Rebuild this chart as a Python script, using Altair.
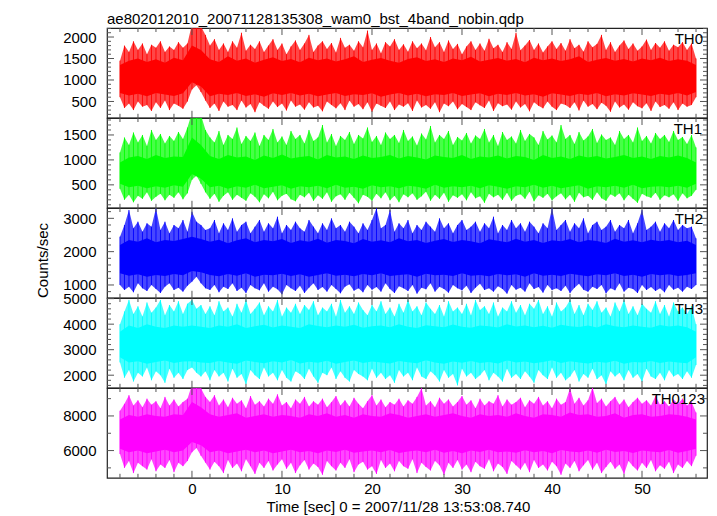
import altair as alt
import pandas as pd

FONT = "Liberation Sans"
W, H = 600, 89.8
XDOM = [-9.44, 57.22]

TITLE = "ae802012010_20071128135308_wam0_bst_4band_nobin.qdp"
XTITLE = "Time [sec] 0 = 2007/11/28 13:53:08.740"
YTITLE = "Counts/sec"
NAMES = ["TH0", "TH1", "TH2", "TH3", "TH0123"]
COLORS = ["#ff0000", "#00ff00", "#0000ff", "#00ffff", "#ff00ff"]
YDOMS = [[120, 2210], [40, 1840], [615, 3310], [1506, 5025], [4427, 9614]]
YLABELS = [[500, 1000, 1500, 2000], [500, 1000, 1500], [1000, 2000, 3000],
           [2000, 3000, 4000, 5000], [6000, 8000]]
YMAJOR = [500, 500, 1000, 1000, 2000]
YMINOR = [100, 100, 200, 200, 1000]
XLABELS = [0, 10, 20, 30, 40, 50]

# time grids (sec): envelope every 0.5 s, core every 1 s
T_OUT = [-8 + 0.5 * i for i in range(129)]
T_IN = [-8 + 1.0 * i for i in range(65)]

# ---------------- TH0 ----------------
HI0 = [1450, 1800, 1650, 1900, 1700, 1850, 1600, 1820, 1750, 1900, 1650, 1780, 1700, 1880, 1750, 1850,
       2300, 2350, 2250, 2050,
       1800, 1950, 1700, 1850, 1650, 1900, 1750, 2100, 1680, 1820,
       1720, 1900, 1650, 1800, 1950, 1700, 1850, 1600, 1780, 1920,
       1700, 1850, 2050, 1650, 1800, 1900, 1720, 1860, 1640, 1980,
       1750, 1820, 1680, 1900, 1760, 2150, 1700, 1850, 1620, 1880,
       1780, 1950, 1700, 1830, 1660, 1900, 1740, 1850, 1690, 2000,
       1760, 1880, 1650, 1920, 1720, 1840, 1600, 1780, 1900, 1700,
       1850, 1680, 1960, 1740, 1820, 1650, 1880, 1720, 2100, 1690,
       1800, 1930, 1700, 1850, 1640, 1780, 1900, 1720, 1860, 1680,
       1950, 1740, 1820, 1660, 1900, 1760, 1840, 2050, 1700, 1880,
       1650, 1800, 1920, 1720, 1850, 1680, 1780, 1940, 1700, 1860,
       1750, 1900, 1680, 1820, 1760, 1880, 1700, 1850, 1500]
LO0 = [600, 350, 450, 300, 500, 380, 420, 280, 480, 350, 520, 300, 450, 400, 330, 500,
       780, 880, 720, 520,
       350, 450, 280, 500, 380, 420, 300, 520, 360, 440,
       250, 480, 400, 330, 500, 370, 450, 290, 520, 380,
       430, 310, 480, 360, 400, 270, 500, 420, 340, 460,
       300, 520, 380, 440, 320, 480, 260, 450, 400, 350,
       500, 300, 430, 380, 460, 280, 520, 360, 420, 330,
       480, 250, 450, 390, 500, 320, 440, 370, 300, 480,
       410, 350, 520, 280, 460, 390, 430, 310, 500, 360,
       440, 270, 480, 400, 340, 500, 380, 300, 450, 420,
       350, 480, 290, 520, 380, 440, 320, 470, 400, 260,
       500, 360, 430, 310, 480, 390, 340, 460, 280, 500,
       370, 420, 330, 480, 300, 450, 380, 420, 600]
CHI0 = [1350, 1450, 1500, 1420, 1480, 1400, 1520, 1460,
        1800, 1700,
        1480, 1420, 1550, 1450, 1500, 1400, 1470, 1530, 1440, 1490,
        1410, 1520, 1460, 1500, 1430, 1480, 1550, 1420, 1470, 1510,
        1450, 1400, 1490, 1530, 1440, 1480, 1420, 1500, 1460, 1540,
        1430, 1470, 1510, 1450, 1490, 1410, 1520, 1460, 1500, 1440,
        1480, 1550, 1420, 1470, 1510, 1450, 1490, 1430, 1500, 1460,
        1520, 1440, 1480, 1450, 1350]
CLO0 = [700, 640, 680, 620, 700, 660, 630, 690,
        950, 850,
        620, 680, 650, 700, 630, 670, 610, 690, 650, 700,
        640, 680, 620, 660, 700, 630, 670, 650, 690, 610,
        660, 700, 640, 680, 620, 670, 650, 700, 630, 660,
        690, 620, 680, 650, 700, 640, 670, 610, 690, 660,
        630, 680, 650, 700, 620, 670, 640, 690, 660, 630,
        680, 650, 700, 640, 720]

# ---------------- TH1 ----------------
HI1 = [1150, 1450, 1300, 1550, 1350, 1500, 1280, 1600, 1400, 1520, 1330, 1480, 1380, 1560, 1420, 1650,
       1950, 2000, 1900, 1600,
       1450, 1350, 1580, 1300, 1500, 1420, 1650, 1320, 1480, 1380,
       1550, 1280, 1500, 1400, 1620, 1350, 1470, 1300, 1580, 1420,
       1500, 1330, 1600, 1380, 1450, 1700, 1350, 1520, 1280, 1480,
       1400, 1560, 1320, 1500, 1430, 1650, 1360, 1480, 1300, 1550,
       1420, 1500, 1340, 1600, 1380, 1470, 1290, 1530, 1410, 1680,
       1350, 1500, 1420, 1580, 1300, 1460, 1390, 1540, 1330, 1490,
       1420, 1620, 1350, 1500, 1280, 1560, 1400, 1470, 1330, 1600,
       1380, 1520, 1450, 1300, 1580, 1410, 1490, 1350, 1700, 1420,
       1500, 1320, 1560, 1390, 1470, 1620, 1340, 1510, 1400, 1450,
       1300, 1580, 1420, 1500, 1350, 1650, 1380, 1480, 1330, 1540,
       1420, 1500, 1360, 1580, 1400, 1460, 1320, 1500, 1250]
LO1 = [420, 200, 300, 150, 280, 220, 350, 180, 260, 320, 190, 300, 240, 350, 210, 330,
       600, 680, 520, 350,
       220, 320, 160, 280, 350, 200, 300, 240, 180, 330,
       260, 150, 310, 230, 360, 190, 280, 320, 210, 170,
       300, 250, 340, 180, 290, 220, 350, 160, 270, 310,
       200, 340, 240, 130, 300, 260, 180, 320, 230, 350,
       190, 280, 150, 310, 250, 330, 200, 270, 360, 180,
       300, 220, 340, 160, 290, 240, 310, 190, 350, 230,
       270, 140, 320, 250, 300, 200, 340, 180, 280, 310,
       220, 360, 170, 290, 240, 320, 190, 270, 330, 210,
       300, 160, 340, 250, 280, 200, 350, 230, 180, 310,
       260, 330, 190, 300, 220, 140, 320, 270, 240, 340,
       200, 290, 250, 310, 180, 330, 230, 280, 400]
CHI1 = [950, 1050, 1080, 1020, 1100, 1040, 1070, 1060,
        1450, 1300,
        1080, 1020, 1100, 1050, 1070, 1000, 1090, 1040, 1110, 1030,
        1060, 1080, 1010, 1100, 1050, 1070, 1020, 1090, 1040, 1060,
        1100, 1030, 1080, 1050, 1010, 1090, 1060, 1040, 1100, 1020,
        1070, 1050, 1090, 1030, 1080, 1060, 1000, 1100, 1040, 1070,
        1020, 1090, 1050, 1080, 1030, 1060, 1100, 1040, 1070, 1020,
        1080, 1050, 1090, 1040, 950]
CLO1 = [520, 450, 480, 430, 470, 440, 490, 460,
        720, 620,
        450, 480, 420, 470, 440, 500, 430, 460, 490, 420,
        470, 450, 480, 430, 500, 440, 460, 420, 490, 450,
        470, 430, 480, 460, 420, 500, 440, 470, 450, 480,
        430, 490, 460, 420, 470, 450, 500, 440, 480, 430,
        460, 490, 420, 470, 450, 480, 440, 500, 430, 460,
        470, 450, 480, 440, 520]

# ---------------- TH2 ----------------
HI2 = [2450, 2800, 3250, 2700, 2900, 2600, 2850, 2750, 3300, 2650, 2900, 2550, 2800, 2700, 2950, 2600,
       3200, 2900, 2800, 2650,
       2700, 2950, 2550, 2850, 2650, 3000, 2600, 2800, 2900, 2550,
       2750, 2950, 2600, 2850, 2700, 3050, 2550, 2800, 2650, 2900,
       2700, 2600, 2950, 2750, 2550, 2850, 2650, 3000, 2700, 2800,
       2600, 2900, 2750, 2550, 2850, 2650, 2950, 3300, 2700, 2800,
       3250, 2600, 2850, 2700, 2950, 2550, 2800, 2650, 2900, 2750,
       2600, 3000, 2700, 2850, 2550, 2800, 2950, 2650, 2750, 2900,
       2600, 2850, 2700, 3050, 2550, 2800, 2650, 2950, 2700, 2850,
       2600, 2900, 2750, 2550, 2850, 2700, 3300, 2650, 2800, 2950,
       2600, 2850, 2700, 3000, 2550, 2800, 2900, 2650, 2750, 2950,
       2600, 2800, 2700, 2950, 2550, 2850, 3250, 2650, 2750, 2900,
       2600, 2850, 2700, 2950, 2650, 2800, 2700, 2750, 2400]
LO2 = [1000, 850, 950, 780, 1050, 900, 820, 1000, 880, 760, 950, 1050, 850, 920, 800, 980,
       1100, 1250, 1050, 900,
       850, 1000, 780, 950, 880, 1050, 820, 920, 760, 1000,
       900, 840, 1050, 800, 950, 870, 720, 1000, 900, 820,
       980, 760, 920, 1050, 850, 940, 800, 1000, 880, 750,
       950, 1020, 830, 900, 780, 1000, 860, 940, 800, 1050,
       880, 760, 960, 900, 820, 1000, 740, 920, 870, 1050,
       800, 950, 880, 770, 1000, 900, 840, 980, 760, 920,
       1040, 850, 900, 800, 960, 880, 740, 1000, 860, 920,
       800, 1050, 880, 940, 770, 1000, 850, 900, 820, 980,
       760, 920, 1040, 860, 800, 950, 880, 1000, 750, 900,
       840, 1050, 800, 920, 880, 760, 1000, 850, 940, 820,
       900, 780, 1000, 860, 920, 800, 950, 880, 1000]
CHI2 = [2200, 2350, 2300, 2400, 2280, 2350, 2320, 2380,
        2450, 2380,
        2300, 2360, 2250, 2340, 2400, 2280, 2350, 2310, 2380, 2260,
        2340, 2300, 2390, 2270, 2350, 2320, 2250, 2380, 2300, 2340,
        2280, 2400, 2310, 2350, 2260, 2330, 2380, 2290, 2350, 2310,
        2250, 2370, 2330, 2280, 2390, 2300, 2350, 2260, 2340, 2310,
        2380, 2280, 2350, 2320, 2260, 2390, 2300, 2340, 2280, 2360,
        2310, 2350, 2280, 2330, 2200]
CLO2 = [1350, 1280, 1320, 1250, 1300, 1270, 1330, 1290,
        1420, 1380,
        1300, 1260, 1330, 1280, 1350, 1250, 1310, 1290, 1340, 1270,
        1320, 1250, 1300, 1350, 1280, 1310, 1260, 1330, 1290, 1350,
        1270, 1300, 1320, 1250, 1340, 1290, 1310, 1270, 1350, 1280,
        1300, 1260, 1330, 1290, 1320, 1250, 1350, 1280, 1310, 1270,
        1340, 1300, 1260, 1320, 1290, 1350, 1270, 1310, 1250, 1330,
        1290, 1320, 1270, 1300, 1350]

# ---------------- TH3 ----------------
HI3 = [4000, 4500, 4950, 4400, 4700, 4300, 4850, 4450, 4650, 4950, 4350, 4750, 4500, 4900, 4400, 4800,
       4950, 4600, 4750, 4400,
       4700, 4350, 4900, 4500, 4650, 4300, 4800, 4450, 4950, 4400,
       4600, 4850, 4350, 4700, 4500, 4950, 4300, 4650, 4450, 4800,
       4400, 4750, 4550, 4900, 4350, 4650, 4500, 4800, 4300, 4950,
       4450, 4700, 4400, 4850, 4550, 4350, 4750, 4500, 4900, 4400,
       4650, 4300, 4800, 4450, 4950, 4500, 4700, 4350, 4850, 4600,
       4400, 4750, 4300, 4900, 4500, 4650, 4400, 4800, 4350, 4950,
       4550, 4700, 4400, 4850, 4300, 4650, 4500, 4900, 4450, 4750,
       4350, 4800, 4600, 4950, 4400, 4700, 4300, 4850, 4500, 4650,
       4950, 4400, 4750, 4350, 4800, 4550, 4900, 4450, 4650, 4300,
       4850, 4500, 4950, 4400, 4700, 4350, 4800, 4600, 4450, 4900,
       4400, 4750, 4300, 4850, 4500, 4650, 4400, 4700, 4000]
LO3 = [2500, 1900, 2200, 1750, 2100, 1950, 2300, 1800, 2150, 2000, 1700, 2250, 1900, 2100, 1850, 2200,
       2300, 2100, 1950, 2150,
       1800, 2200, 1950, 2100, 1750, 2250, 1900, 2050, 1650, 2200,
       2000, 1850, 2300, 1950, 2100, 1800, 2200, 1900, 1750, 2150,
       2050, 1850, 2250, 1950, 1700, 2100, 2000, 2300, 1850, 2150,
       1900, 1750, 2200, 2050, 1950, 1800, 2250, 1900, 2100, 1850,
       2000, 1700, 2200, 1950, 2100, 1800, 2300, 1950, 1850, 2150,
       2000, 1750, 2200, 1900, 2050, 1600, 2250, 1950, 2100, 1850,
       2000, 2200, 1800, 2100, 1950, 1750, 2250, 1900, 2050, 1850,
       2150, 1950, 1700, 2200, 2000, 1850, 2300, 1900, 2100, 1800,
       1950, 2200, 1750, 2050, 1900, 2250, 1850, 2000, 1650, 2150,
       1950, 2100, 1800, 2200, 1900, 2050, 1750, 2250, 1950, 1850,
       2100, 1800, 2200, 1950, 2050, 1850, 2150, 1900, 2400]
CHI3 = [3700, 3950, 3850, 4000, 3900, 3850, 3950, 3900,
        3950, 3900,
        3850, 3950, 3900, 4000, 3850, 3920, 3980, 3870, 3950, 3900,
        3850, 4000, 3930, 3880, 3950, 3900, 3980, 3860, 3920, 3950,
        3880, 4000, 3900, 3850, 3960, 3920, 3880, 3990, 3900, 3860,
        3950, 3920, 3870, 4000, 3910, 3950, 3880, 3940, 3860, 3980,
        3920, 3890, 3950, 3870, 4000, 3920, 3880, 3950, 3900, 3860,
        3970, 3910, 3950, 3880, 3700]
CLO3 = [2700, 2500, 2550, 2450, 2520, 2580, 2480, 2540,
        2550, 2500,
        2480, 2560, 2500, 2450, 2580, 2520, 2470, 2550, 2500, 2600,
        2460, 2530, 2490, 2570, 2450, 2520, 2580, 2480, 2540, 2500,
        2460, 2560, 2510, 2470, 2590, 2500, 2450, 2540, 2490, 2560,
        2480, 2520, 2460, 2580, 2500, 2540, 2470, 2520, 2590, 2480,
        2550, 2500, 2460, 2530, 2490, 2570, 2450, 2520, 2500, 2560,
        2480, 2540, 2500, 2470, 2700]

# ---------------- TH0123 ----------------
HI4 = [8300, 8700, 9200, 8600, 8900, 8500, 9000, 8650, 8850, 8450, 9100, 8600, 8950, 8550, 8800, 9000,
       9800, 9900, 9600, 9100,
       8800, 9200, 8600, 8950, 8500, 9050, 8700, 8900, 8450, 9150,
       8650, 8850, 8550, 9000, 8700, 9250, 8600, 8800, 8450, 8950,
       8700, 9100, 8550, 8850, 8650, 9000, 8500, 8800, 9150, 8600,
       8900, 8550, 9050, 8700, 8450, 8850, 9200, 8600, 8950, 8500,
       8800, 8650, 9000, 8550, 8900, 8700, 9100, 9600, 8600, 8850,
       8500, 9050, 8700, 8950, 8550, 8800, 9150, 8650, 8900, 8450,
       9000, 8600, 8850, 8700, 9200, 8550, 8950, 8650, 8800, 9050,
       8500, 8900, 8700, 9100, 8600, 8850, 8450, 9000, 8650, 8800,
       9600, 8700, 9050, 8600, 8900, 9650, 8750, 9000, 8550, 8850,
       9100, 8650, 8950, 8500, 8800, 9050, 8700, 8900, 8600, 9150,
       8650, 8850, 8550, 8950, 8700, 9000, 8600, 8800, 8200]
LO4 = [5800, 5000, 5400, 4700, 5300, 5100, 4900, 5500, 4800, 5200, 5000, 5450, 4750, 5300, 5100, 5400,
       5900, 6150, 5700, 5300,
       4900, 5350, 5100, 4700, 5450, 5000, 5250, 4800, 5500, 5100,
       4650, 5300, 5000, 5400, 4850, 5200, 5500, 4950, 5300, 4700,
       5150, 5450, 4900, 5250, 5050, 4600, 5400, 5100, 4850, 5300,
       5000, 5500, 4750, 5200, 5350, 4900, 5100, 4650, 5450, 5000,
       5250, 4800, 5400, 5100, 4950, 5500, 4700, 5300, 5050, 4850,
       5400, 5150, 4600, 5300, 5000, 5450, 4900, 5200, 4750, 5350,
       5100, 4950, 5500, 4800, 5250, 5050, 4650, 5400, 5150, 4900,
       5300, 4750, 5450, 5000, 5200, 4850, 5350, 5100, 4600, 5250,
       5000, 5400, 4800, 5150, 5450, 4900, 5300, 4700, 5050, 5350,
       4950, 5200, 4650, 5400, 5100, 4850, 5300, 5000, 5450, 4800,
       5150, 4950, 5350, 4700, 5200, 5000, 5400, 5100, 5700]
CHI4 = [7800, 8050, 7950, 8100, 8000, 7950, 8100, 8050,
        8800, 8500,
        8100, 7950, 8050, 8150, 7900, 8000, 8100, 7950, 8050, 8000,
        7900, 8100, 8000, 8150, 7950, 8050, 7900, 8100, 8000, 7950,
        8150, 8050, 7900, 8000, 8100, 7950, 8050, 8150, 8000, 7900,
        8100, 8000, 8050, 7950, 8150, 8000, 7900, 8100, 8050, 7950,
        8200, 8050, 8100, 7950, 8000, 8150, 7900, 8050, 8100, 7950,
        8000, 8100, 8050, 7950, 7800]
CLO4 = [6100, 5900, 6000, 5850, 5950, 6050, 5900, 6000,
        6500, 6300,
        5900, 6000, 5850, 5950, 6050, 5900, 6000, 5850, 5950, 6050,
        5900, 5980, 5850, 6000, 5920, 6050, 5870, 5950, 6000, 5900,
        6030, 5860, 5950, 6000, 5900, 6050, 5880, 5970, 5850, 6000,
        5920, 6050, 5900, 5950, 5870, 6020, 5900, 5980, 5850, 6040,
        5950, 5900, 6000, 5870, 6050, 5920, 5980, 5860, 6000, 5950,
        5900, 6030, 5870, 5980, 6100]

SERIES = [(HI0, LO0, CHI0, CLO0), (HI1, LO1, CHI1, CLO1), (HI2, LO2, CHI2, CLO2),
          (HI3, LO3, CHI3, CLO3), (HI4, LO4, CHI4, CLO4)]
LABEL_X = [596, 595, 596, 596, 598]

TICK_COLOR = "#555555"


def ticks_between(lo, hi, step):
    start = (int(lo) // step + 1) * step
    return list(range(start, int(hi) + 1, step))


def panel(i):
    hi, lo, chi, clo = SERIES[i]
    ydom = YDOMS[i]
    bottom = i == 4
    xaxis = alt.Axis(values=XLABELS, format="d", ticks=False, domain=False, grid=False,
                     labelFont=FONT, labelFontSize=15, labelColor="black",
                     labelPadding=4, labelFlush=False, title=XTITLE,
                     titleFont=FONT, titleFontSize=15, titleFontWeight="normal",
                     titleColor="black", titlePadding=3, titleX=291,
                     titleAlign="center") if bottom else None
    yaxis = alt.Axis(values=YLABELS[i], format="d", ticks=False, domain=False, grid=False,
                     labelFont=FONT, labelFontSize=15, labelColor="black",
                     labelPadding=11, labelOverlap=False,
                     title=YTITLE if i == 2 else None,
                     titleFont=FONT, titleFontSize=15, titleFontWeight="normal",
                     titleColor="black", titlePadding=12, titleY=52, titleAlign="center")
    X = alt.X("t:Q", scale=alt.Scale(domain=XDOM, nice=False, zero=False), axis=xaxis)
    Y = alt.Y("lo:Q", scale=alt.Scale(domain=ydom, nice=False, zero=False), axis=yaxis)

    outer = pd.DataFrame({"t": T_OUT, "lo": lo, "hi": hi})
    inner = pd.DataFrame({"t": T_IN, "lo": clo, "hi": chi})
    layers = [
        alt.Chart(outer).mark_area(color=COLORS[i], opacity=0.72, clip=True,
                                   interpolate="linear").encode(x=X, y=Y, y2="hi:Q"),
        alt.Chart(outer).mark_rule(color=COLORS[i], opacity=0.9, strokeWidth=1,
                                   clip=True).encode(x=X, y=Y, y2="hi:Q"),
        alt.Chart(inner).mark_area(color=COLORS[i], opacity=1, clip=True,
                                   interpolate="linear").encode(x=X, y=Y, y2="hi:Q"),
    ]

    # inward ticks on all four sides
    y_major = ticks_between(ydom[0], ydom[1], YMAJOR[i])
    y_minor = [v for v in ticks_between(ydom[0], ydom[1], YMINOR[i]) if v not in y_major]
    x_major = XLABELS
    x_minor = [v for v in range(-8, 57, 2) if v not in x_major]
    for vals, ln in ((y_major, 7), (y_minor, 4)):
        d = pd.DataFrame({"lo": vals})
        layers.append(alt.Chart(d).mark_rule(color=TICK_COLOR, strokeWidth=1).encode(
            y=Y, x=alt.value(0), x2=alt.value(ln)))
        layers.append(alt.Chart(d).mark_rule(color=TICK_COLOR, strokeWidth=1).encode(
            y=Y, x=alt.value(W), x2=alt.value(W - ln)))
    for vals, ln in ((x_major, 7), (x_minor, 4)):
        d = pd.DataFrame({"t": vals})
        layers.append(alt.Chart(d).mark_rule(color=TICK_COLOR, strokeWidth=1).encode(
            x=X, y=alt.value(0), y2=alt.value(ln)))
        layers.append(alt.Chart(d).mark_rule(color=TICK_COLOR, strokeWidth=1).encode(
            x=X, y=alt.value(H), y2=alt.value(H - ln)))

    lab = pd.DataFrame({"name": [NAMES[i]]})
    layers.append(alt.Chart(lab).mark_text(align="right", baseline="alphabetic",
                                           font=FONT, fontSize=15, color="black").encode(
        x=alt.value(LABEL_X[i]), y=alt.value(16), text="name:N"))

    ch = alt.layer(*layers).properties(width=W, height=H)
    if i == 0:
        ch = ch.properties(title=alt.TitleParams(TITLE, anchor="start", frame="group",
                                                 font=FONT, fontSize=15, fontWeight="normal",
                                                 color="black", offset=1))
    return ch


chart = alt.vconcat(*[panel(i) for i in range(5)], spacing=0, bounds="flush").properties(
    padding={"left": 27, "top": 2, "right": 0, "bottom": 0}
).configure_view(stroke="#222222", strokeWidth=1.2)

chart.save("out.html", embed_options={"renderer": "svg", "actions": False})
